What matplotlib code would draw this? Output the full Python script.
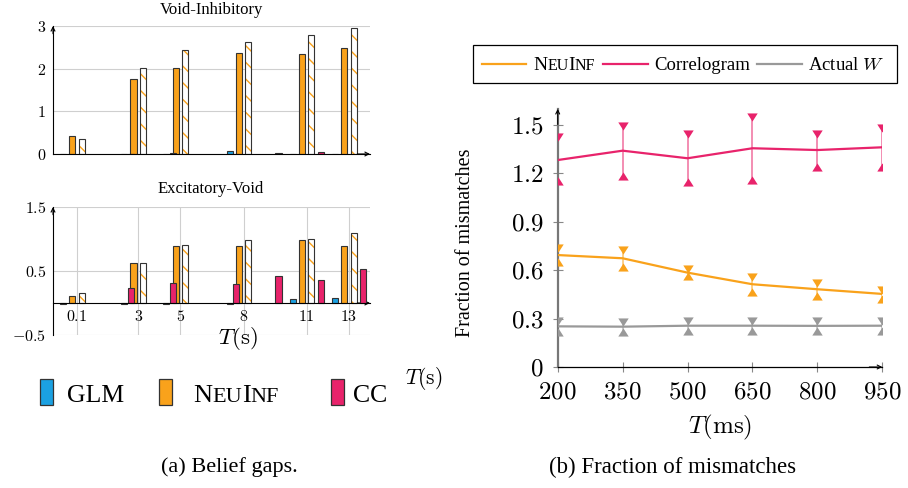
import numpy as np
import matplotlib
matplotlib.use('Agg')
import matplotlib.pyplot as plt
from matplotlib.patches import Rectangle
from matplotlib.lines import Line2D

plt.rcParams['font.family'] = ['Liberation Serif', 'DejaVu Serif']
plt.rcParams['mathtext.fontset'] = 'cm'
plt.rcParams['hatch.linewidth'] = 1.0

# ---------------- data ----------------
T_s = [0.1, 3, 5, 8, 11, 13]
T_s_labels = ['0.1', '3', '5', '8', '11', '13']
cc_T = [2, 4, 7, 9, 11, 13]

glm_vi = [0.0, 0.0, 0.0, 0.07, 0.0, 0.0]
neuinf_vi = [0.42, 1.75, 2.02, 2.37, 2.34, 2.48]
neuinf_alt_vi = [0.34, 2.01, 2.44, 2.62, 2.80, 2.96]
cc_vi = [0.0, 0.03, 0.0, 0.03, 0.04, 0.0]

glm_ev = [-0.01, -0.02, -0.01, -0.02, 0.07, 0.08]
neuinf_ev = [0.11, 0.62, 0.89, 0.89, 0.99, 0.89]
neuinf_alt_ev = [0.16, 0.62, 0.90, 0.98, 1.00, 1.09]
cc_ev = [0.23, 0.31, 0.29, 0.42, 0.36, 0.53]

vi_yticks = [0, 1, 2, 3]
vi_ylabels = ['0', '1', '2', '3']
ev_yticks = [-0.5, 0.5, 1.5]
ev_ylabels = ['-0.5', '0.5', '1.5']

bar_names = ['GLM', 'NeuInf', 'CC']

T_ms = [200, 350, 500, 650, 800, 950]
neuinf_mis = [0.694, 0.674, 0.585, 0.513, 0.482, 0.453]
neuinf_up = [0.738, 0.725, 0.606, 0.556, 0.523, 0.480]
neuinf_lo = [0.651, 0.620, 0.562, 0.465, 0.440, 0.420]
corr_mis = [1.283, 1.341, 1.294, 1.356, 1.345, 1.362]
corr_up = [1.424, 1.495, 1.443, 1.552, 1.443, 1.479]
corr_lo = [1.151, 1.185, 1.144, 1.159, 1.242, 1.237]
actual_mis = [0.252, 0.250, 0.256, 0.256, 0.255, 0.256]
actual_up = [0.283, 0.281, 0.287, 0.287, 0.286, 0.287]
actual_lo = [0.220, 0.218, 0.225, 0.225, 0.224, 0.225]
line_names = ['NeuInf', 'Correlogram', 'Actual $W$']
mis_yticks = [0, 0.3, 0.6, 0.9, 1.2, 1.5]
mis_ylabels = ['0', '0.3', '0.6', '0.9', '1.2', '1.5']

# ---------------- style ----------------
C_BLUE = '#1BA1E2'
C_ORANGE = '#F9A21B'
C_PINK = '#E8236B'
C_GRAY = '#999999'
EDGE = '#333333'

W, H = 908, 488
fig = plt.figure(figsize=(W / 100, H / 100), dpi=100)


def fbox(l, t, r, b):
    return [l / W, 1 - b / H, (r - l) / W, (b - t) / H]


def fx(px):
    return px / W


def fy(py):
    return 1 - py / H


def add_arrows(ax):
    kw = dict(arrowprops=dict(arrowstyle='->', lw=0.8, color='k', shrinkA=0,
                              shrinkB=0, mutation_scale=7),
              annotation_clip=False)
    tr = ax.get_yaxis_transform()
    ax.annotate('', xy=(1.0, 0), xytext=(0.96, 0), xycoords=tr, textcoords=tr, **kw)
    ax.annotate('', xy=(0, 1.0), xytext=(0, 0.94), xycoords=ax.transAxes,
                textcoords=ax.transAxes, **kw)


slot = 0.44
bw = 0.29
offs = np.array([-1.5, -0.5, 0.5, 1.5]) * slot


def draw_bars(ax, glm, neu, neu_alt, cc):
    x = np.array(T_s)
    xc = np.array(cc_T)
    ax.bar(x + offs[0], glm, bw, color=C_BLUE, edgecolor=EDGE, lw=0.8, zorder=3)
    ax.bar(x + offs[1], neu, bw, color=C_ORANGE, edgecolor=EDGE, lw=0.8, zorder=3)
    ax.bar(x + offs[2], neu_alt, bw, color='white', edgecolor=C_ORANGE, lw=0,
           hatch='\\\\', zorder=3)
    ax.bar(x + offs[2], neu_alt, bw, fill=False, edgecolor=EDGE, lw=0.8, zorder=3)
    ax.bar(xc + offs[3], cc, bw, color=C_PINK, edgecolor=EDGE, lw=0.8, zorder=3.5)


for spec in ['top', 'bottom']:
    if spec == 'top':
        ax = fig.add_axes(fbox(53, 26, 370, 154))
        draw_bars(ax, glm_vi, neuinf_vi, neuinf_alt_vi, cc_vi)
        ax.set_ylim(0, 3)
        ax.set_yticks(vi_yticks, labels=['$%s$' % s for s in vi_ylabels])
        ax.set_xticks([])
        ax.grid(axis='y', color='#cfcfcf', lw=0.8, zorder=0)
    else:
        ax = fig.add_axes(fbox(53, 207, 370, 335))
        draw_bars(ax, glm_ev, neuinf_ev, neuinf_alt_ev, cc_ev)
        ax.set_ylim(-0.5, 1.5)
        ax.set_yticks(ev_yticks, labels=['$%s$' % s for s in ev_ylabels])
        ax.set_xticks(T_s, labels=['$%s$' % s for s in T_s_labels])
        ax.grid(True, color='#cfcfcf', lw=0.8, zorder=0)
        ax.spines['bottom'].set_position(('data', 0))
    ax.set_axisbelow(True)
    ax.set_xlim(-1.04, 14.0)
    for s in ['top', 'right']:
        ax.spines[s].set_visible(False)
    for s in ['left', 'bottom']:
        ax.spines[s].set_linewidth(0.8)
        ax.spines[s].set_zorder(4)
    ax.tick_params(axis='both', length=0, labelsize=11.5)
    ax.tick_params(axis='y', pad=5)
    ax.tick_params(axis='x', pad=4)
    ax.set_facecolor('none')
    add_arrows(ax)

fig.text(fx(211), fy(10), 'Void-Inhibitory', ha='center', va='center', fontsize=12)
fig.text(fx(211), fy(189), 'Excitatory-Void', ha='center', va='center', fontsize=12)
fig.text(fx(238), fy(338), r'$T(\mathrm{s})$', ha='center', va='center', fontsize=16.5)
fig.text(fx(424), fy(378), r'$T(\mathrm{s})$', ha='center', va='center', fontsize=15.5)

renderer = fig.canvas.get_renderer()


def smallcaps(x_px, y_px, s, big, small):
    x = x_px
    i = 0
    while i < len(s):
        j = i
        up = s[i].isupper()
        while j < len(s) and s[j].isupper() == up:
            j += 1
        part = s[i:j]
        t = fig.text(fx(x), fy(y_px), part.upper(), fontsize=big if up else small,
                     ha='left', va='baseline')
        x += t.get_window_extent(renderer).width
        i = j
    return x


# left legend
leg_colors = [C_BLUE, C_ORANGE, C_PINK]
patch_x = [40, 159, 331]
text_x = [67, 193, 353]
for name, c, px, tx in zip(bar_names, leg_colors, patch_x, text_x):
    fig.add_artist(Rectangle((fx(px), fy(405)), 13 / W, 26 / H, transform=fig.transFigure,
                             facecolor=c, edgecolor=EDGE, lw=0.9))
    if name == 'NeuInf':
        smallcaps(tx, 402, name, 19, 16)
    else:
        fig.text(fx(tx), fy(402), name, fontsize=18.5, ha='left', va='baseline')

fig.text(fx(229), fy(467), '(a) Belief gaps.', ha='center', va='center', fontsize=16)

# ---------------- right panel ----------------
ax2 = fig.add_axes(fbox(557.7, 108.9, 882.3, 367))
ax2.set_xlim(200, 950)
ax2.set_ylim(0, 1.6)
series = [(neuinf_mis, neuinf_up, neuinf_lo, C_ORANGE),
          (corr_mis, corr_up, corr_lo, C_PINK),
          (actual_mis, actual_up, actual_lo, C_GRAY)]
tri_dn = [(-1, 0.78), (1, 0.78), (0, -0.78)]
tri_up = [(-1, -0.78), (1, -0.78), (0, 0.78)]
for vals, up, lo, c in series:
    ax2.vlines(T_ms, lo, up, color=c, alpha=0.6, lw=1.2, zorder=2)
    ax2.plot(T_ms, up, linestyle='none', marker=tri_dn, markersize=7.5, color=c,
             markeredgewidth=0, zorder=3)
    ax2.plot(T_ms, lo, linestyle='none', marker=tri_up, markersize=7.5, color=c,
             markeredgewidth=0, zorder=3)
    ax2.plot(T_ms, vals, color=c, lw=1.6, zorder=4)

ax2.set_xticks(T_ms, labels=['$%d$' % v for v in T_ms])
ax2.set_yticks(mis_yticks, labels=['$%s$' % s for s in mis_ylabels])
ax2.tick_params(axis='both', direction='inout', length=6.5, width=0.8, color='#888888',
                labelsize=18, pad=7)
for s in ['top', 'right']:
    ax2.spines[s].set_visible(False)
ax2.spines['left'].set_color('#777777')
ax2.spines['left'].set_linewidth(1.6)
ax2.spines['bottom'].set_linewidth(0.9)
ax2.set_facecolor('none')
add_arrows(ax2)

fig.text(fx(465), fy(243), 'Fraction of mismatches', rotation=90, ha='center',
         va='center', fontsize=14.5)
fig.text(fx(720), fy(427), r'$T(\mathrm{ms})$', ha='center', va='center', fontsize=18)
fig.text(fx(673), fy(467), '(b) Fraction of mismatches', ha='center', va='center',
         fontsize=16.5)

# right legend
fig.add_artist(Rectangle((fx(473), fy(83)), (897 - 473) / W, 38 / H,
                         transform=fig.transFigure, fill=False, edgecolor='k', lw=0.9))
line_x = [(482, 526), (603, 648), (757, 802)]
ltext_x = [533, 654, 808]
line_cols = [C_ORANGE, C_PINK, C_GRAY]
for name, c, (a, b), tx in zip(line_names, line_cols, line_x, ltext_x):
    fig.add_artist(Line2D([fx(a), fx(b)], [fy(64), fy(64)], transform=fig.transFigure,
                          color=c, lw=1.6))
    if name == 'NeuInf':
        smallcaps(tx, 70, name, 14, 11.5)
    else:
        fig.text(fx(tx), fy(70), name, fontsize=13.5, ha='left', va='baseline')

fig.savefig('out.png', dpi=100)
